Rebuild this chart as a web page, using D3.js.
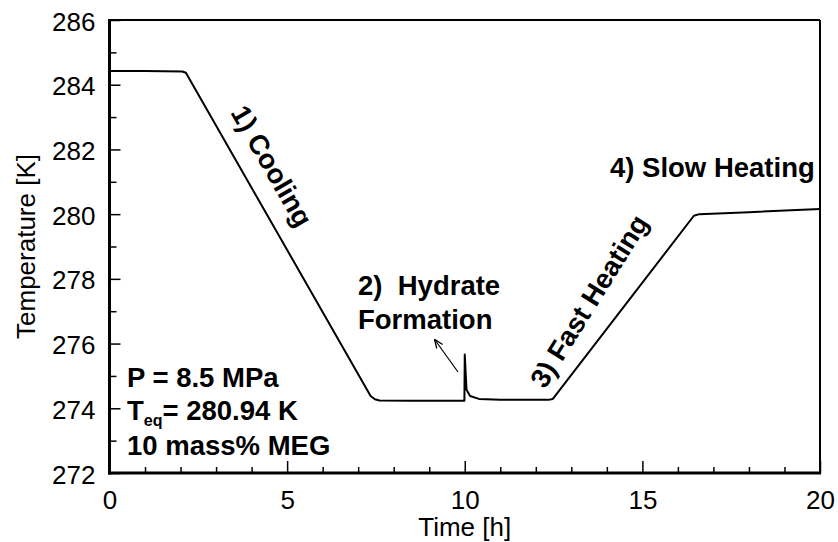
<!DOCTYPE html>
<html>
<head>
<meta charset="utf-8">
<script src="https://cdn.jsdelivr.net/npm/d3@7"></script>
<style>
  html, body { margin: 0; padding: 0; background: #fff; }
  svg { display: block; font-family: "Liberation Sans", Arial, sans-serif; }
</style>
</head>
<body>
<svg id="chart" width="838" height="542"></svg>
<script>
// ---- data ----
const timeH = [0, 1.0, 2.05, 2.15, 7.35, 7.47, 7.6, 8.5, 9.99, 10.0, 10.05, 10.15, 10.4, 11.0, 12.35, 12.48, 16.45, 16.6, 18.0, 20.0];
const tempK = [284.42, 284.42, 284.41, 284.37, 274.38, 274.28, 274.24, 274.23, 274.23, 275.66, 274.57, 274.38, 274.29, 274.26, 274.26, 274.29, 279.95, 280.0, 280.06, 280.16];
const xMajorTicks = [0, 5, 10, 15, 20];
const xMinorTicks = [1, 2, 3, 4, 6, 7, 8, 9, 11, 12, 13, 14, 16, 17, 18, 19];
const yMajorTicks = [272, 274, 276, 278, 280, 282, 284, 286];
const yMinorTicks = [273, 275, 277, 279, 281, 283, 285];
const xLabel = "Time [h]";
const yLabel = "Temperature [K]";
const stageLabels = ["1) Cooling", "2)\u00A0\u00A0Hydrate", "Formation", "3) Fast Heating", "4) Slow Heating"];
const infoLines = ["P = 8.5 MPa", "280.94 K", "10 mass% MEG"];

// ---- layout ----
const L = 109.5, R = 820, T = 20, B = 473;
const svg = d3.select("#chart");
const x = d3.scaleLinear().domain([0, 20]).range([L, R]);
const y = d3.scaleLinear().domain([272, 286]).range([B, T]);
const FS = 26, FB = 27.5;

// frame (top & right)
svg.append("line").attr("x1", L).attr("x2", R).attr("y1", T).attr("y2", T)
  .attr("stroke", "#000").attr("stroke-width", 2);
svg.append("line").attr("x1", R).attr("x2", R).attr("y1", T).attr("y2", B)
  .attr("stroke", "#000").attr("stroke-width", 2);

// x axis
const gxMinor = svg.append("g").attr("transform", `translate(0,${B})`)
  .call(d3.axisBottom(x).tickValues(xMinorTicks).tickSize(-6).tickFormat(""));
const gx = svg.append("g").attr("transform", `translate(0,${B})`)
  .call(d3.axisBottom(x).tickValues(xMajorTicks).tickSize(-12).tickFormat(d3.format("d")));
// y axis
const gyMinor = svg.append("g").attr("transform", `translate(${L},0)`)
  .call(d3.axisLeft(y).tickValues(yMinorTicks).tickSize(-7).tickFormat(""));
const gy = svg.append("g").attr("transform", `translate(${L},0)`)
  .call(d3.axisLeft(y).tickValues(yMajorTicks).tickSize(-11).tickFormat(d3.format("d")));

[gxMinor, gx, gyMinor, gy].forEach(g => {
  g.select(".domain").remove();
  g.selectAll(".tick line").attr("stroke", "#000").attr("stroke-width", 1.5);
});
gx.selectAll(".tick text").attr("y", 0).attr("dy", 36).attr("font-size", FS)
  .attr("font-family", "Liberation Sans, Arial, sans-serif").attr("fill", "#000");
gy.selectAll(".tick text").attr("x", -14).attr("dy", 10).attr("font-size", FS)
  .attr("font-family", "Liberation Sans, Arial, sans-serif").attr("fill", "#000");

// left & bottom spines
svg.append("line").attr("x1", L).attr("x2", L).attr("y1", T - 1).attr("y2", B + 1.5)
  .attr("stroke", "#000").attr("stroke-width", 3);
svg.append("line").attr("x1", L - 1.5).attr("x2", R + 1).attr("y1", B).attr("y2", B)
  .attr("stroke", "#000").attr("stroke-width", 3);

// axis labels
svg.append("text").attr("x", (L + R) / 2).attr("y", 536).attr("text-anchor", "middle")
  .attr("font-size", FS).text(xLabel);
svg.append("text").attr("transform", `translate(35,${(T + B) / 2}) rotate(-90)`)
  .attr("text-anchor", "middle").attr("font-size", FS).text(yLabel);

// data line
const line = d3.line().x((d, i) => x(timeH[i])).y((d, i) => y(tempK[i]));
svg.append("path").datum(tempK).attr("d", line).attr("fill", "none")
  .attr("stroke", "#000").attr("stroke-width", 2).attr("stroke-linejoin", "round");

// annotations
const ann = svg.append("g").attr("font-weight", "bold").attr("font-size", FB).attr("fill", "#000");
ann.append("text").attr("transform", "translate(272,166) rotate(60)")
  .attr("text-anchor", "middle").attr("dy", "0.35em").text(stageLabels[0]);
ann.append("text").attr("x", 358).attr("y", 295).text(stageLabels[1]);
ann.append("text").attr("x", 358).attr("y", 329).text(stageLabels[2]);
ann.append("text").attr("transform", "translate(589,301) rotate(-58)")
  .attr("text-anchor", "middle").attr("dy", "0.35em").text(stageLabels[3]);
ann.append("text").attr("x", 610).attr("y", 177).text(stageLabels[4]);

ann.append("text").attr("x", 127).attr("y", 387).text(infoLines[0]);
const teq = ann.append("text").attr("x", 127).attr("y", 420);
teq.append("tspan").text("T");
teq.append("tspan").attr("font-size", 16).attr("dy", 6).text("eq");
teq.append("tspan").attr("dy", -6).text("= " + infoLines[1]);
ann.append("text").attr("x", 127).attr("y", 455).text(infoLines[2]);

// arrow
const defs = svg.append("defs");
defs.append("marker").attr("id", "ah").attr("viewBox", "0 0 10 10").attr("refX", 9).attr("refY", 5)
  .attr("markerWidth", 9).attr("markerHeight", 9).attr("orient", "auto").attr("markerUnits", "userSpaceOnUse")
  .append("path").attr("d", "M0,1 L10,5 L0,9").attr("fill", "none").attr("stroke", "#000").attr("stroke-width", 1.5);
svg.append("line").attr("x1", 458).attr("y1", 372).attr("x2", 435).attr("y2", 340)
  .attr("stroke", "#000").attr("stroke-width", 1.2).attr("marker-end", "url(#ah)");
</script>
</body>
</html>
